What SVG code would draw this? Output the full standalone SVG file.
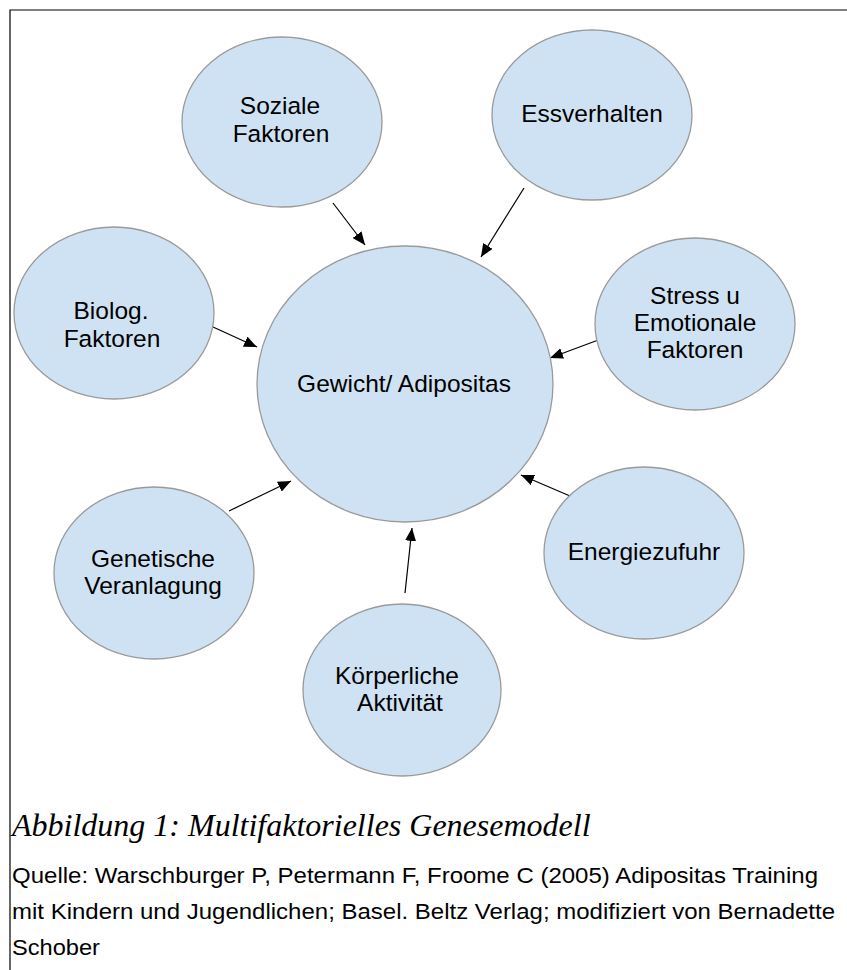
<svg xmlns="http://www.w3.org/2000/svg" width="847" height="970" viewBox="0 0 847 970">
  <style>
    .node ellipse { fill: #cfe2f3; stroke: #9a9a9a; stroke-width: 1.3; }
    .node text { font-family: "Liberation Sans", Arial, sans-serif; font-size: 24.5px; fill: #000; text-anchor: middle; }
    .edge { stroke: #000; stroke-width: 1.2; fill: none; marker-end: url(#arrow); }
    .caption { font-family: "Liberation Serif", "Times New Roman", serif; font-style: italic; font-size: 32px; fill: #000; }
    .source { font-family: "Liberation Sans", Arial, sans-serif; font-size: 22px; fill: #000; }
  </style>
  <defs>
    <marker id="arrow" markerUnits="userSpaceOnUse" markerWidth="13" markerHeight="11" refX="13" refY="5.5" orient="auto">
      <path d="M0,0 L13,5.5 L0,11 Z" fill="#000"/>
    </marker>
  </defs>

  <rect width="847" height="970" fill="#fff"/>
  <!-- frame: left and top rules only -->
  <path d="M10,970 V10 H847" fill="none" stroke="#000" stroke-width="1.2"/>

  <g id="connectors">
    <line class="edge" x1="333" y1="203" x2="365" y2="245"/>
    <line class="edge" x1="524" y1="188" x2="481" y2="257"/>
    <line class="edge" x1="213" y1="327" x2="257" y2="347"/>
    <line class="edge" x1="601" y1="339" x2="550" y2="358"/>
    <line class="edge" x1="229" y1="511" x2="291" y2="481"/>
    <line class="edge" x1="577" y1="499" x2="521" y2="475"/>
    <line class="edge" x1="405" y1="593" x2="412" y2="528"/>
  </g>

  <g id="soziale" class="node">
    <ellipse cx="282" cy="122" rx="100" ry="85"/>
    <text x="280" y="114">Soziale</text>
    <text x="281" y="142">Faktoren</text>
  </g>
  <g id="essverhalten" class="node">
    <ellipse cx="592" cy="115" rx="100" ry="85"/>
    <text x="592" y="122">Essverhalten</text>
  </g>
  <g id="biolog" class="node">
    <ellipse cx="114" cy="313" rx="100" ry="86"/>
    <text x="111" y="319">Biolog.</text>
    <text x="112" y="347">Faktoren</text>
  </g>
  <g id="stress" class="node">
    <ellipse cx="695" cy="324" rx="100" ry="86"/>
    <text x="695" y="304">Stress u</text>
    <text x="695" y="331">Emotionale</text>
    <text x="695" y="358">Faktoren</text>
  </g>
  <g id="gewicht" class="node">
    <ellipse cx="405" cy="384" rx="148" ry="138"/>
    <text x="404" y="392">Gewicht/ Adipositas</text>
  </g>
  <g id="genetische" class="node">
    <ellipse cx="154" cy="573" rx="100" ry="86"/>
    <text x="153" y="567">Genetische</text>
    <text x="153" y="594">Veranlagung</text>
  </g>
  <g id="energiezufuhr" class="node">
    <ellipse cx="644" cy="553" rx="100" ry="86"/>
    <text x="644" y="560">Energiezufuhr</text>
  </g>
  <g id="koerperliche" class="node">
    <ellipse cx="402" cy="690" rx="99" ry="86"/>
    <text x="397" y="684">Körperliche</text>
    <text x="400" y="711">Aktivität</text>
  </g>

  <text class="caption" x="12" y="836">Abbildung 1: Multifaktorielles Genesemodell</text>
  <text class="source" x="12" y="883" textLength="806" lengthAdjust="spacingAndGlyphs">Quelle: Warschburger P, Petermann F, Froome C (2005) Adipositas Training</text>
  <text class="source" x="12" y="919" textLength="823" lengthAdjust="spacingAndGlyphs">mit Kindern und Jugendlichen; Basel. Beltz Verlag; modifiziert von Bernadette</text>
  <text class="source" x="12" y="955" textLength="88" lengthAdjust="spacingAndGlyphs">Schober</text>
</svg>
